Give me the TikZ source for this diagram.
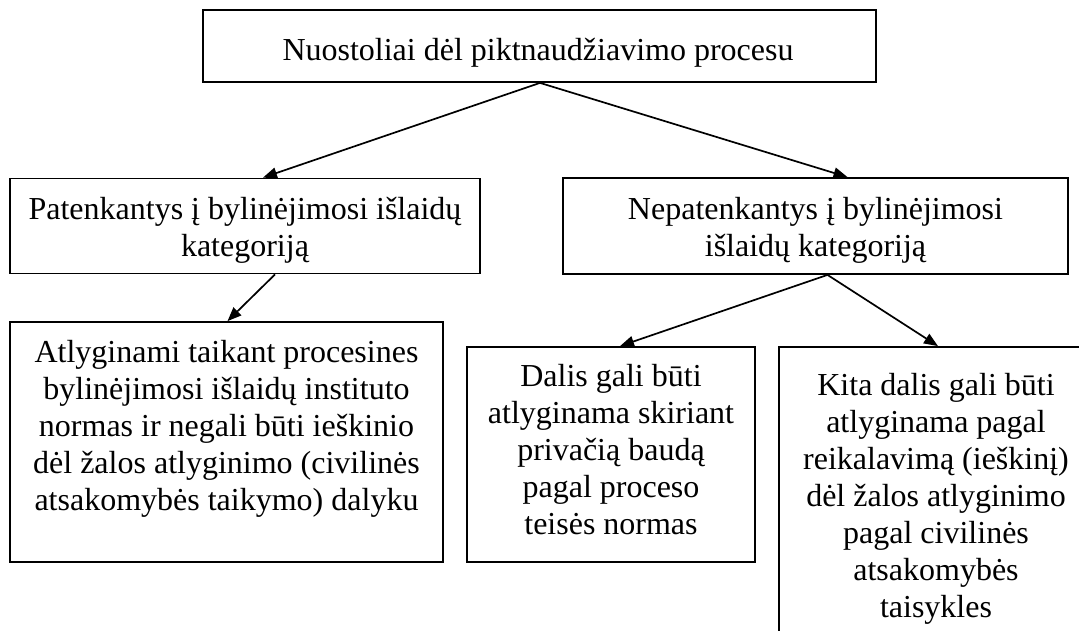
\documentclass[tikz,border=0pt]{standalone}
\usepackage{fontspec}
\setmainfont{Liberation Serif}
\usetikzlibrary{arrows.meta}
\tikzset{
  boxnode/.style={draw, line width=1.8pt, rectangle, inner sep=0pt, anchor=center},
  txt/.style={font=\fontsize{32}{37}\selectfont, align=center, inner sep=0pt, anchor=base},
  conn/.style={line width=1.7pt, -{Triangle[length=14pt,width=11pt]}}
}
\begin{document}
\begin{tikzpicture}[x=1pt,y=-1pt]
\useasboundingbox (0,0) rectangle (1079,630);
\clip (0,0) rectangle (1079,630);
% boxes
\node[boxnode, minimum width=673pt, minimum height=72pt] (top) at (539.5,46) {};
\node[boxnode, minimum width=470pt, minimum height=95pt] (bl) at (245,226) {};
\node[boxnode, minimum width=505pt, minimum height=96pt] (br) at (815.5,226) {};
\node[boxnode, minimum width=433pt, minimum height=240pt] (c1) at (226.5,442) {};
\node[boxnode, minimum width=288pt, minimum height=215pt] (c2) at (611,454.5) {};
\node[boxnode, minimum width=316pt, minimum height=313pt] (c3) at (937,503.5) {};
% texts (anchor base = baseline of last line)
\node[txt] (ttop) at (538,60) {Nuostoliai dėl piktnaudžiavimo procesu};
\node[txt] (tbl) at (245,256) {Patenkantys į bylinėjimosi išlaidų\\kategoriją};
\node[txt] (tbr) at (815.5,256) {Nepatenkantys į bylinėjimosi\\išlaidų kategoriją};
\node[txt] (tc1) at (226.5,510) {Atlyginami taikant procesines\\bylinėjimosi išlaidų instituto\\normas ir negali būti ieškinio\\dėl žalos atlyginimo (civilinės\\atsakomybės taikymo) dalyku};
\node[txt] (tc2) at (611,534) {Dalis gali būti\\atlyginama skiriant\\privačią baudą\\pagal proceso\\teisės normas};
\node[txt] (tc3) at (936,617) {Kita dalis gali būti\\atlyginama pagal\\reikalavimą (ieškinį)\\dėl žalos atlyginimo\\pagal civilinės\\atsakomybės\\taisykles};
% connectors
\draw[conn] ([xshift=0.5pt]top.south) -- ([xshift=18pt]bl.north);
\draw[conn] ([xshift=0.5pt]top.south) -- ([xshift=32pt]br.north);
\draw[conn] ([xshift=30pt]bl.south) -- ([xshift=1pt]c1.north);
\draw[conn] ([xshift=12pt]br.south) -- ([xshift=9pt]c2.north);
\draw[conn] ([xshift=12pt]br.south) -- ([xshift=1pt]c3.north);
\end{tikzpicture}
\end{document}
